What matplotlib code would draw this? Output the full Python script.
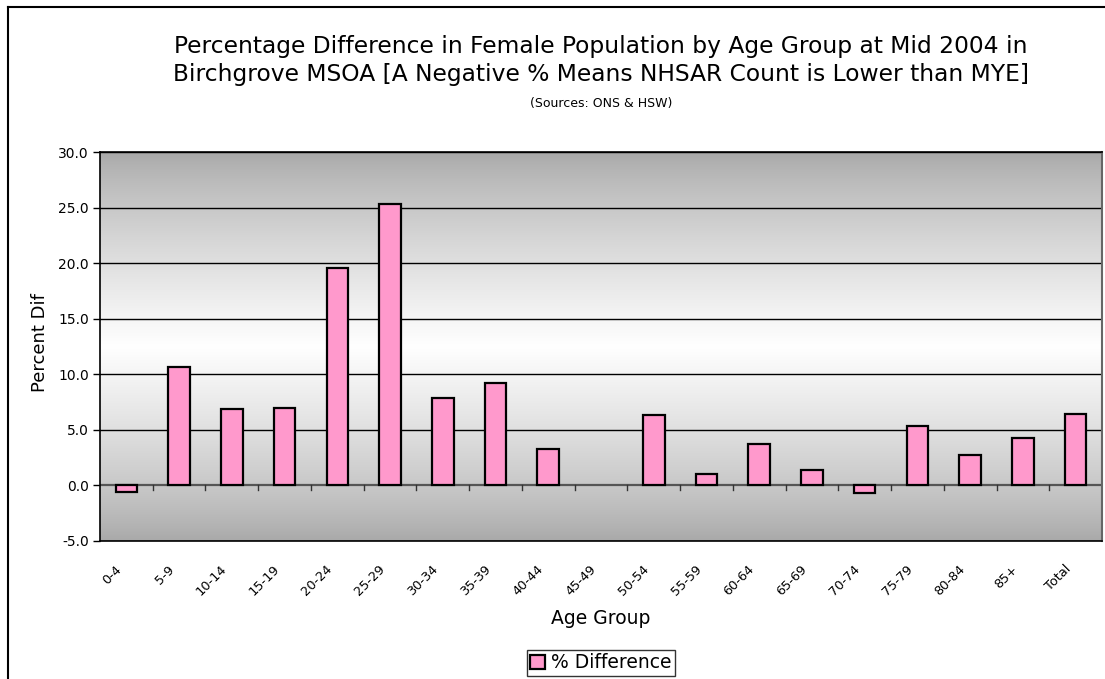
import matplotlib
matplotlib.use("Agg")
import matplotlib.pyplot as plt
import matplotlib.transforms as mtransforms
import numpy as np
from matplotlib.lines import Line2D

plt.rcParams['font.family'] = ['DejaVu Sans']

categories = ["0-4", "5-9", "10-14", "15-19", "20-24", "25-29", "30-34", "35-39",
              "40-44", "45-49", "50-54", "55-59", "60-64", "65-69", "70-74",
              "75-79", "80-84", "85+", "Total"]
pct_diff = [-0.63, 10.66, 6.9, 7.0, 19.6, 25.3, 7.9, 9.25, 3.3, 0.0,
            6.37, 1.0, 3.76, 1.41, -0.69, 5.32, 2.74, 4.24, 6.43]
yticks = [-5.0, 0.0, 5.0, 10.0, 15.0, 20.0, 25.0, 30.0]

W, H = 1105, 679
fig = plt.figure(figsize=(W/100, H/100), dpi=100)
ax = fig.add_axes([100/W, 1-541/H, (1102-100)/W, (541-152)/H])

n = len(categories)
x = np.arange(n)
ax.set_xlim(-0.5, n-0.5)
ax.set_ylim(-5, 30)

# gradient background
t = np.linspace(0, 1, 256)
g = 1 - np.abs(t - 0.5) * 2
vals = 0.66 + (1.0 - 0.66) * g**0.8
img = np.dstack([vals, vals, vals]).reshape(256, 1, 3)
ax.imshow(img, extent=[-0.5, n-0.5, -5, 30], aspect='auto', zorder=0, origin='lower')

for yv in yticks:
    if yv != 0:
        ax.axhline(yv, color='black', lw=1.0, zorder=1)

lws = [0 if v == 0 else 1.6 for v in pct_diff]
ax.bar(x, pct_diff, width=0.41, color='#ff99cc', edgecolor='black', linewidth=lws, zorder=3,
       label='% Difference')

# zero axis line with boundary ticks
ax.axhline(0, color='#555555', lw=1.6, zorder=2)
for b in np.arange(0.5, n-0.5, 1.0):
    ax.plot([b, b], [0, -0.45], color='#333333', lw=1.0, zorder=2)

ax.set_yticks(yticks)
ax.set_yticklabels([f"{v:.1f}" for v in yticks], fontsize=10)
ax.tick_params(axis='y', direction='out', length=5, width=1, pad=3)
ax.set_xticks(x)
ax.set_xticklabels(categories, fontsize=9.3, rotation=45, ha='right', va='center',
                   rotation_mode='anchor')
ax.tick_params(axis='x', length=0, pad=19)
offset = mtransforms.ScaledTranslation(-7/100, 0, fig.dpi_scale_trans)
for lab in ax.get_xticklabels():
    lab.set_transform(lab.get_transform() + offset)

for s in ['left', 'top', 'bottom']:
    ax.spines[s].set_color('black')
    ax.spines[s].set_linewidth(1.2)
ax.spines['right'].set_color('#666666')
ax.spines['right'].set_linewidth(1.5)

fig.text(601/W, 1-47/H, "Percentage Difference in Female Population by Age Group at Mid 2004 in",
         ha='center', va='center', fontsize=16.8)
fig.text(601/W, 1-75/H, "Birchgrove MSOA [A Negative % Means NHSAR Count is Lower than MYE]",
         ha='center', va='center', fontsize=16.8)
fig.text(601/W, 1-103/H, "(Sources: ONS & HSW)", ha='center', va='center', fontsize=9)

fig.text(40/W, 1-343/H, "Percent Dif", rotation=90, ha='center', va='center', fontsize=13)
fig.text(601/W, 1-619/H, "Age Group", ha='center', va='center', fontsize=13.5)

leg = fig.legend(loc='center', bbox_to_anchor=(601/W, 1-663/H), fontsize=13.5,
                 frameon=True, fancybox=False, edgecolor='black', handlelength=0.8,
                 handleheight=0.8, handletextpad=0.3, borderpad=0.2, borderaxespad=0)
leg.get_frame().set_linewidth(1.0)
for h in leg.legend_handles:
    h.set_linewidth(1.6)

# outer chart border (left and top visible)
fig.add_artist(Line2D([8/W, 8/W], [0, 1-7/H], color='black', lw=1.5, transform=fig.transFigure))
fig.add_artist(Line2D([8/W, 1], [1-7/H, 1-7/H], color='black', lw=1.5, transform=fig.transFigure))

fig.savefig("out.png", dpi=100)
